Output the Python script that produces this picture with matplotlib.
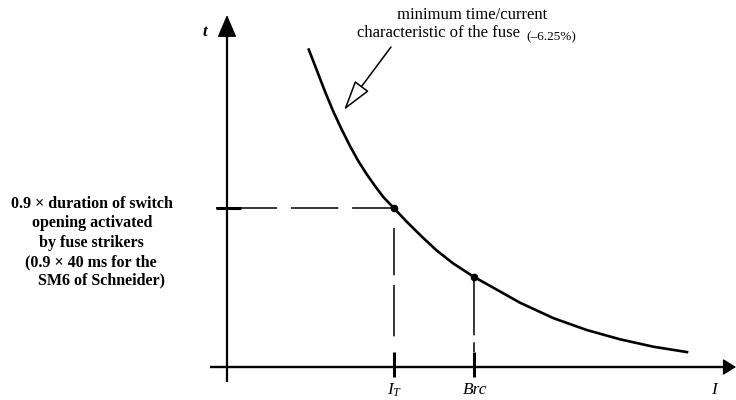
import matplotlib
matplotlib.use("Agg")
import matplotlib.pyplot as plt

plt.rcParams['font.family'] = ['Liberation Serif', 'DejaVu Serif']
plt.rcParams['mathtext.fontset'] = 'custom'
plt.rcParams['mathtext.rm'] = 'Liberation Serif'
plt.rcParams['mathtext.it'] = 'Liberation Serif:italic'
plt.rcParams['lines.scale_dashes'] = False

# Fuse minimum time/current characteristic (schematic units: I right, t up)
curve_I = [81.3, 89.7, 98, 106.3, 114.7, 123, 131.3, 139.7, 148, 156.3, 167.3, 179.7,
           194.7, 209.7, 226.3, 246.3, 266.3, 293, 326.3, 359.7, 393, 426.3, 461.3]
curve_t = [318.7, 297, 275.5, 255.5, 237.5, 221, 206, 192.8, 181, 170, 158.5, 145.3,
           130.5, 116.5, 103.5, 90.5, 79.3, 64.3, 48.9, 37, 27.7, 20.3, 14.7]

# Marked operating points
point_names = ["$I_T$", "Brc"]
point_I = [167, 247]
point_t = [159, 90]

left_text = ["0.9 \u00d7 duration of switch", "opening activated", "by fuse strikers",
             "(0.9 \u00d7 40 ms for the", "SM6 of Schneider)"]
left_text_x = [-135.5, -135, -135.5, -136, -126]
left_text_t = [163, 144, 124, 105, 87]

fig = plt.figure(figsize=(7.36, 4.0), dpi=100)
ax = fig.add_axes([0, 0, 1, 1])
ax.set_xlim(-227, 509)
ax.set_ylim(-33, 367)
ax.axis('off')

# axes with arrows
ax.plot([0, 0], [-15, 335], color='black', lw=1.6, solid_capstyle='butt')
ax.annotate('', xy=(0, 352), xytext=(0, 330),
            arrowprops=dict(arrowstyle='-|>,head_length=1.4,head_width=0.6', mutation_scale=10,
                            fc='black', ec='black', lw=1.0, shrinkA=0, shrinkB=0))
ax.plot([-17, 500], [0, 0], color='black', lw=1.7, solid_capstyle='butt')
ax.annotate('', xy=(509, 0), xytext=(495, 0),
            arrowprops=dict(arrowstyle='-|>,head_length=0.8,head_width=0.5', mutation_scale=10,
                            fc='black', ec='black', lw=1.0, shrinkA=0, shrinkB=0))

# curve
ax.plot(curve_I, curve_t, color='black', lw=1.9, solid_capstyle='butt', solid_joinstyle='round')

# dashed guide lines
ax.plot([-11, point_I[0]], [point_t[0], point_t[0]], color='black', lw=1.1,
        linestyle=(0, (44, 10, 34, 10, 30, 10)))
ax.plot([-11, 14], [point_t[0], point_t[0]], color='black', lw=2.2, solid_capstyle='butt')
ax.plot([point_I[0], point_I[0]], [139, 15], color='black', lw=1.1,
        linestyle=(0, (34, 7, 37, 100)))
ax.plot([point_I[1], point_I[1]], [point_t[1], 15], color='black', lw=1.1,
        linestyle=(0, (42, 5, 100)))
for xi in point_I:
    ax.plot([xi, xi], [-10, 15], color='black', lw=2.2, solid_capstyle='butt')

ax.plot(point_I, point_t, 'o', color='black', ms=4.5)

# labels
ax.text(-22, 335, "t", fontsize=12, style='italic', weight='bold', ha='center', va='center')
ax.text(487, -23, "I", fontsize=12.5, style='italic', ha='center', va='center')
ax.text(point_I[0] + 1, -23, point_names[0], fontsize=12.5, ha='center', va='center')
ax.text(point_I[1] + 1, -23, point_names[1], fontsize=12.5, style='italic', ha='center', va='center')

for i, line in enumerate(left_text):
    ax.text(left_text_x[i], left_text_t[i], line, fontsize=11.5, weight='bold',
            ha='center', va='center')

ax.text(245, 352, "minimum time/current", fontsize=12, ha='center', va='center')
ax.text(130, 334, "characteristic of the fuse", fontsize=12, ha='left', va='center')
ax.text(299, 330, "(\u20136.25%)", fontsize=9.5, ha='left', va='center')

ax.annotate('', xy=(117, 257), xytext=(164, 320),
            arrowprops=dict(arrowstyle='-|>,head_length=1.9,head_width=0.55', mutation_scale=10,
                            fc='white', ec='black', lw=1.1, shrinkA=0, shrinkB=0))

fig.savefig("out.png", dpi=100, facecolor='white')
